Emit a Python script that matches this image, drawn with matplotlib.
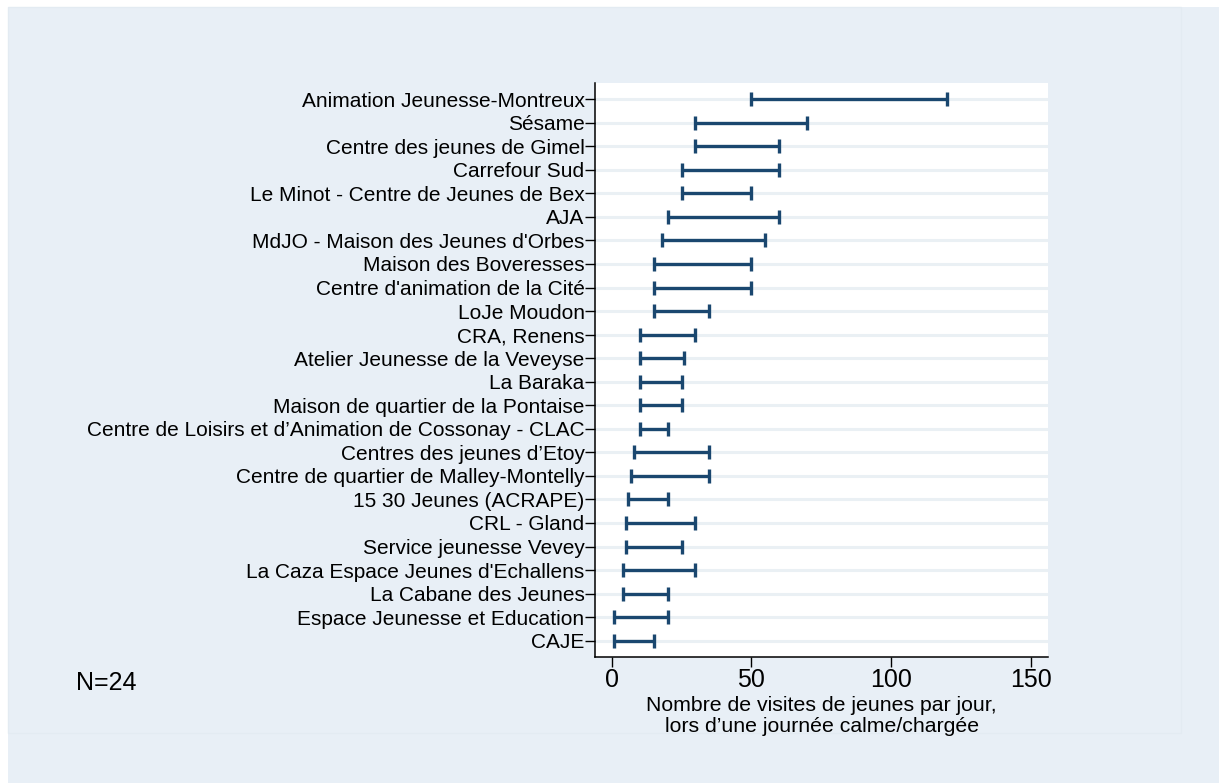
import matplotlib
matplotlib.use("Agg")
import matplotlib.pyplot as plt
from matplotlib.patches import Rectangle

plt.rcParams['font.family'] = ['Liberation Sans', 'DejaVu Sans']

categories = [
    "Animation Jeunesse-Montreux",
    "Sésame",
    "Centre des jeunes de Gimel",
    "Carrefour Sud",
    "Le Minot - Centre de Jeunes de Bex",
    "AJA",
    "MdJO - Maison des Jeunes d'Orbes",
    "Maison des Boveresses",
    "Centre d'animation de la Cité",
    "LoJe Moudon",
    "CRA, Renens",
    "Atelier Jeunesse de la Veveyse",
    "La Baraka",
    "Maison de quartier de la Pontaise",
    "Centre de Loisirs et d’Animation de Cossonay - CLAC",
    "Centres des jeunes d’Etoy",
    "Centre de quartier de Malley-Montelly",
    "15 30 Jeunes (ACRAPE)",
    "CRL - Gland",
    "Service jeunesse Vevey",
    "La Caza Espace Jeunes d'Echallens",
    "La Cabane des Jeunes",
    "Espace Jeunesse et Education",
    "CAJE",
]
low_values = [50, 30, 30, 25, 25, 20, 18, 15, 15, 15, 10, 10, 10, 10, 10, 8, 7, 6, 5, 5, 4, 4, 1, 1]
high_values = [120, 70, 60, 60, 50, 60, 55, 50, 50, 35, 30, 26, 25, 25, 20, 35, 35, 20, 30, 25, 30, 20, 20, 15]
x_ticks = [0, 50, 100, 150]
note_text = "N=24"
x_title = "Nombre de visites de jeunes par jour,\nlors d’une journée calme/chargée"

W, H = 1219, 783
fig = plt.figure(figsize=(W / 100, H / 100), dpi=100, facecolor="white")

bg = "#E8EFF6"
fig.patches.append(Rectangle((8 / W, 0), 1 - 8 / W, 1 - 7 / H, transform=fig.transFigure,
                             facecolor=bg, edgecolor="none", zorder=-10))
fig.patches.append(Rectangle((8 / W, 1 - 733 / H), (1181 - 8) / W, (733 - 7) / H,
                             transform=fig.transFigure, facecolor="none",
                             edgecolor="#E3EBF2", linewidth=1.0, zorder=-9))

left, right, top, bottom = 595.3, 1048.3, 82.7, 656.7
ax = fig.add_axes([left / W, 1 - bottom / H, (right - left) / W, (bottom - top) / H])
ax.set_zorder(5)
ax.set_facecolor("white")

n = len(categories)
ypos = list(range(n, 0, -1))

for y in ypos:
    ax.axhline(y, color="#EAF0F4", linewidth=2.2, zorder=1)

navy = "#1A476F"
ax.hlines(ypos, low_values, high_values, color=navy, linewidth=2.4, zorder=3)
ax.plot(low_values, ypos, linestyle="none", marker="|", markersize=9.5,
        markeredgewidth=2.4, color=navy, zorder=3)
ax.plot(high_values, ypos, linestyle="none", marker="|", markersize=9.5,
        markeredgewidth=2.4, color=navy, zorder=3)

ax.set_xlim(-5.87, 156.3)
ax.set_ylim(0.32, 24.7)

ax.set_yticks(ypos)
ax.set_yticklabels(categories, fontsize=15)
ax.set_xticks(x_ticks)
ax.set_xticklabels([str(t) for t in x_ticks], fontsize=18)

ax.tick_params(axis="y", direction="out", length=7.2, width=1.0, pad=0.5, colors="black")
ax.tick_params(axis="x", direction="out", length=7.2, width=1.0, pad=0.8, colors="black")

for s in ["top", "right"]:
    ax.spines[s].set_visible(False)
for s in ["left", "bottom"]:
    ax.spines[s].set_linewidth(1.1)
    ax.spines[s].set_color("black")

fig.text(((left + right) / 2) / W, 1 - 716 / H, x_title, ha="center", va="center",
         fontsize=15.3, linespacing=1.08)
fig.text(76 / W, 1 - 683 / H, note_text, ha="left", va="center", fontsize=18)

fig.savefig("out.png", dpi=100, facecolor="white")
